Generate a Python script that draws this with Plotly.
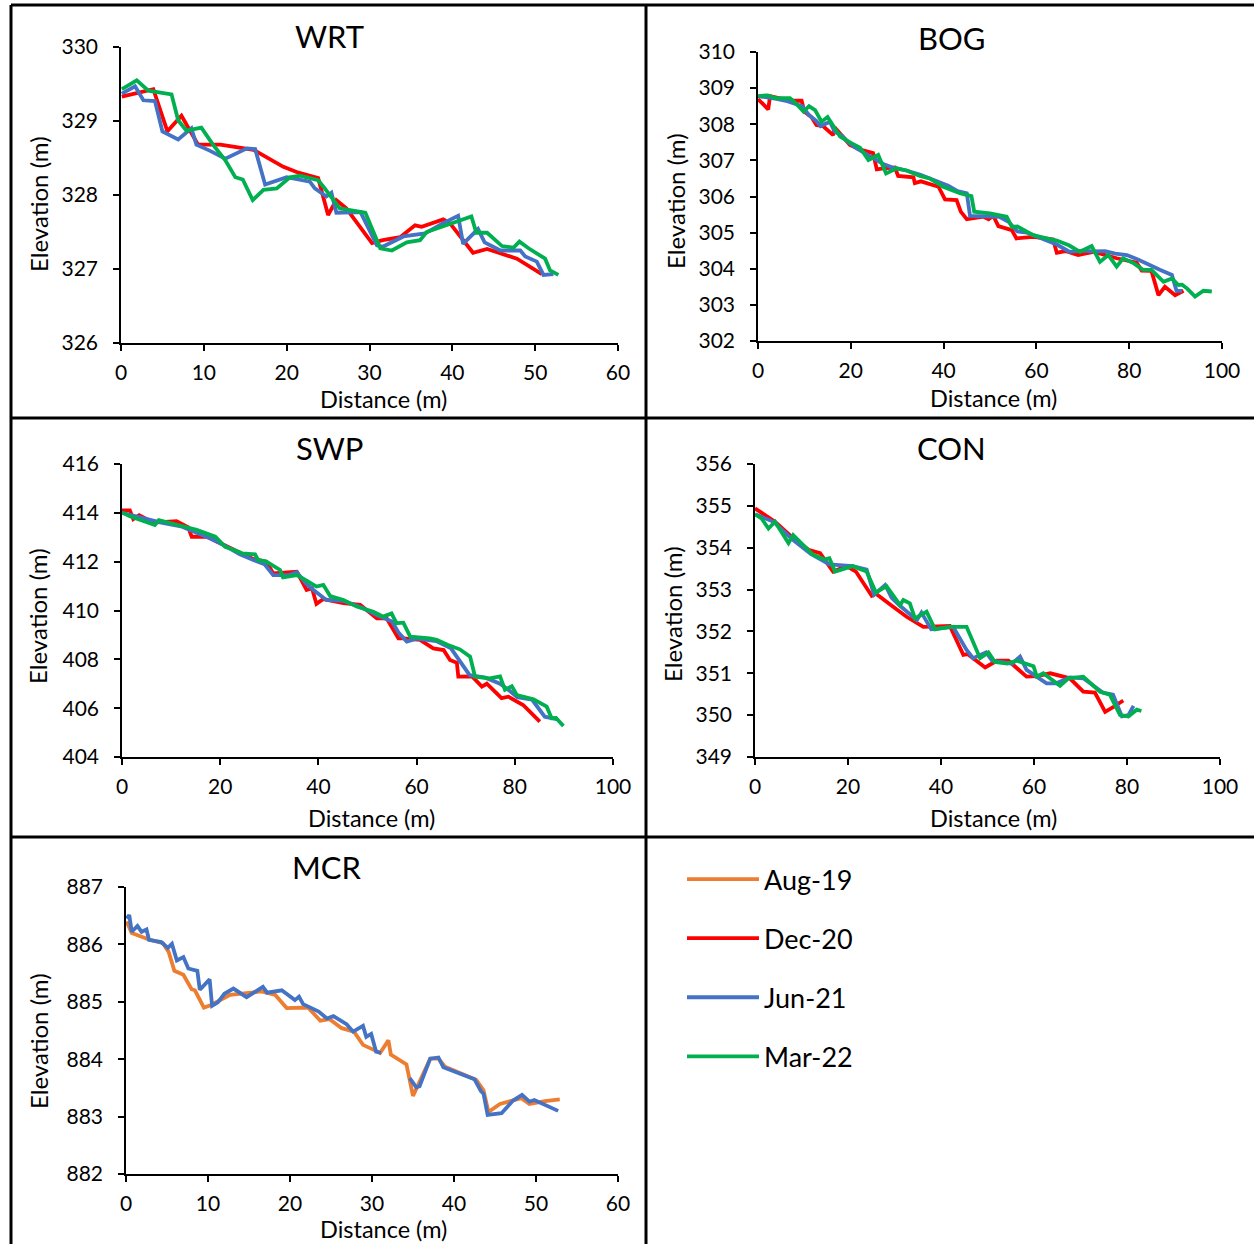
import plotly.graph_objects as go

W, H = 1254, 1244
FONT = "Lato"

SERIES = ["Aug-19", "Dec-20", "Jun-21", "Mar-22"]
COLORS = {"Aug-19": "#ED7D31", "Dec-20": "#FF0000", "Jun-21": "#4472C4", "Mar-22": "#00B050"}

# ---------------- WRT ----------------
WRT_DEC_X = [0.1, 3.9, 5.6, 7.3, 9.3, 12.0, 16.0, 19.6, 21.2, 23.8, 25.0, 26.0, 27.2, 30.3, 31.6, 33.7, 35.5, 36.3, 38.9, 39.7, 42.5, 44.2, 47.8, 50.8]
WRT_DEC_Y = [329.33, 329.43, 328.86, 329.07, 328.68, 328.68, 328.61, 328.38, 328.31, 328.23, 327.73, 327.93, 327.82, 327.35, 327.39, 327.43, 327.59, 327.57, 327.67, 327.62, 327.22, 327.27, 327.14, 326.93]
WRT_JUN_X = [0.1, 1.7, 2.7, 4.1, 5.0, 6.9, 8.5, 9.1, 10.7, 12.6, 15.2, 16.2, 17.4, 20.0, 22.8, 23.4, 24.8, 25.4, 26.0, 28.9, 30.9, 31.6, 34.1, 36.7, 38.9, 40.7, 41.3, 43.1, 43.9, 45.8, 48.2, 48.8, 50.2, 51.0, 52.2]
WRT_JUN_Y = [329.37, 329.47, 329.28, 329.27, 328.86, 328.75, 328.90, 328.68, 328.60, 328.49, 328.63, 328.62, 328.14, 328.24, 328.18, 328.09, 327.98, 328.03, 327.76, 327.77, 327.32, 327.30, 327.44, 327.48, 327.62, 327.72, 327.34, 327.54, 327.36, 327.25, 327.25, 327.17, 327.10, 326.92, 326.93]
WRT_MAR_X = [0.1, 1.9, 3.3, 6.1, 6.9, 7.9, 9.7, 11.1, 12.6, 13.8, 14.7, 15.9, 17.2, 18.8, 20.4, 21.6, 23.8, 24.6, 26.4, 29.5, 31.3, 32.7, 34.5, 36.1, 36.9, 40.1, 42.3, 42.9, 44.2, 46.0, 47.4, 48.1, 49.2, 51.2, 51.8, 52.8]
WRT_MAR_Y = [329.43, 329.55, 329.41, 329.36, 329.01, 328.87, 328.91, 328.68, 328.47, 328.24, 328.21, 327.93, 328.07, 328.09, 328.24, 328.26, 328.20, 328.09, 327.82, 327.76, 327.28, 327.25, 327.36, 327.39, 327.50, 327.63, 327.71, 327.49, 327.49, 327.31, 327.29, 327.37, 327.28, 327.14, 326.98, 326.92]

# ---------------- BOG ----------------
BOG_DEC_X = [0, 2.2, 2.6, 5, 7, 9.4, 10, 11.5, 12.6, 14, 16.2, 16.5, 18, 19.8, 22, 24.8, 25.6, 27, 29.5, 30.2, 33.5, 33.8, 35.1, 38.9, 40.3, 42.8, 43.7, 45, 48.6, 49.7, 50.7, 51.8, 54.7, 55.7, 59.3, 63.6, 64.4, 66.2, 69, 72.3, 77.3, 81.6, 82.7, 84.8, 86.3, 87.7, 89.9, 91.7]
BOG_DEC_Y = [308.7, 308.41, 308.78, 308.72, 308.65, 308.65, 308.35, 308.2, 307.98, 307.95, 307.7, 307.92, 307.7, 307.43, 307.3, 307.2, 306.75, 306.78, 306.8, 306.57, 306.53, 306.37, 306.42, 306.27, 305.92, 305.9, 305.58, 305.37, 305.44, 305.37, 305.47, 305.18, 305.07, 304.84, 304.88, 304.81, 304.44, 304.49, 304.38, 304.47, 304.29, 304.17, 303.95, 303.94, 303.27, 303.5, 303.27, 303.39]
BOG_JUN_X = [0, 2, 4, 6, 8, 9.5, 11, 12.5, 13.5, 15.5, 16.5, 18.1, 19.5, 21, 23, 25, 27, 29, 32, 35, 38, 41, 43, 45, 45.7, 48, 52, 54, 55.9, 58, 60, 62, 64.4, 67.1, 70, 72, 74.8, 77, 79.5, 82, 84, 86.6, 89.2, 90.2, 91.4]
BOG_JUN_Y = [308.78, 308.75, 308.7, 308.65, 308.55, 308.5, 308.25, 308.1, 307.95, 308.07, 307.8, 307.68, 307.5, 307.35, 307.2, 307.05, 306.9, 306.8, 306.72, 306.6, 306.45, 306.3, 306.15, 306.09, 305.46, 305.45, 305.44, 305.3, 305.03, 305.0, 304.9, 304.8, 304.67, 304.47, 304.5, 304.48, 304.49, 304.42, 304.38, 304.25, 304.12, 303.97, 303.83, 303.39, 303.39]
BOG_MAR_X = [0.1, 2, 4, 6.9, 8, 9.8, 11, 12.3, 13.7, 15, 16, 17.7, 20.2, 22, 23.8, 25.9, 27.6, 29.9, 32, 34.9, 37, 39.9, 43.5, 46, 46.6, 50, 53.6, 54.7, 55.9, 59.3, 62, 64.4, 67, 69.4, 71.9, 73.7, 75.5, 77.3, 78.7, 81, 83, 84.8, 87.4, 89.2, 90.6, 91.4, 92.5, 94.2, 96, 97.8]
BOG_MAR_Y = [308.78, 308.8, 308.72, 308.72, 308.6, 308.35, 308.5, 308.39, 308.07, 308.2, 308.0, 307.66, 307.47, 307.35, 307.01, 307.15, 306.64, 306.78, 306.72, 306.57, 306.5, 306.27, 306.09, 306.01, 305.58, 305.53, 305.44, 305.16, 305.17, 304.93, 304.85, 304.78, 304.65, 304.47, 304.63, 304.19, 304.38, 304.06, 304.29, 304.15, 303.97, 303.97, 303.64, 303.73, 303.55, 303.56, 303.45, 303.23, 303.39, 303.37]

# ---------------- SWP ----------------
SWP_DEC_X = [0, 1.6, 2.3, 3.5, 6.4, 11.1, 13.5, 14.2, 17.3, 20.7, 24.7, 26.8, 29.4, 30.8, 35.6, 37.6, 38.7, 39.6, 41.0, 45.1, 48.5, 51.9, 53.9, 56.3, 57.3, 60.7, 63.4, 65.5, 66.8, 68.2, 68.5, 71.3, 73.3, 74.3, 77.3, 78.7, 81.7, 85.1]
SWP_DEC_Y = [414.1, 414.1, 413.74, 413.9, 413.6, 413.66, 413.41, 413.02, 413.02, 412.68, 412.27, 412.1, 412.0, 411.52, 411.59, 410.84, 410.91, 410.27, 410.47, 410.3, 410.23, 409.68, 409.68, 408.86, 408.86, 408.8, 408.45, 408.38, 407.97, 407.86, 407.29, 407.3, 406.88, 407.0, 406.41, 406.47, 406.13, 405.45]
SWP_JUN_X = [0, 2, 5, 8, 12, 15, 18, 21, 24, 27, 29, 30.8, 34, 35.6, 37.5, 39.0, 41.6, 45, 49, 52, 55, 56.3, 58.0, 60, 64, 67, 69.5, 70.8, 74, 77, 79, 80.5, 83.5, 86.1, 88.5]
SWP_JUN_Y = [414.0, 413.9, 413.75, 413.6, 413.45, 413.2, 412.95, 412.65, 412.3, 412.05, 411.9, 411.45, 411.45, 411.57, 411.1, 410.84, 410.43, 410.4, 410.1, 409.8, 409.55, 409.1, 408.73, 408.85, 408.75, 408.45, 407.7, 407.35, 407.25, 407.0, 406.7, 406.45, 406.35, 405.65, 405.55]
SWP_MAR_X = [0, 1.6, 6.7, 7.5, 12.2, 15.2, 19.0, 21.0, 22.6, 24.4, 27.1, 27.7, 29.4, 30.8, 32.2, 32.8, 34.2, 35.6, 37.6, 39.6, 41.0, 42.4, 45.1, 47.8, 51.2, 53.2, 54.9, 55.9, 57.3, 58.7, 62.7, 64.1, 66.4, 68.8, 70.9, 71.9, 74.9, 77.0, 78.0, 79.4, 80.4, 83.8, 86.5, 87.5, 88.4, 89.9]
SWP_MAR_Y = [414.02, 413.86, 413.5, 413.7, 413.46, 413.3, 413.02, 412.61, 412.5, 412.34, 412.3, 412.07, 412.0, 411.82, 411.66, 411.36, 411.42, 411.45, 411.22, 410.98, 411.05, 410.59, 410.43, 410.16, 409.95, 409.75, 409.88, 409.48, 409.5, 408.93, 408.86, 408.8, 408.59, 408.41, 408.11, 407.29, 407.22, 407.3, 406.75, 406.9, 406.54, 406.36, 406.06, 405.59, 405.6, 405.27]

# ---------------- CON ----------------
CON_DEC_X = [0, 4.3, 7.5, 11.5, 14.0, 16.8, 19.7, 21.7, 25.1, 26.0, 29.7, 32.6, 36.2, 41.9, 44.8, 45.7, 49.5, 52.0, 54.5, 58.4, 60.6, 63.5, 67.7, 70.6, 73.1, 75.3, 77.1, 79.2]
CON_DEC_Y = [354.94, 354.62, 354.30, 353.95, 353.87, 353.43, 353.56, 353.43, 352.85, 352.9, 352.59, 352.35, 352.11, 352.13, 351.44, 351.46, 351.14, 351.30, 351.3, 350.92, 350.93, 351.0, 350.88, 350.56, 350.54, 350.08, 350.2, 350.35]
CON_JUN_X = [0, 4.0, 8, 12, 16, 21.0, 24.0, 25.6, 28.0, 29.4, 31.0, 33.0, 34.8, 35.8, 37.9, 42.6, 45.5, 46.9, 49.7, 51.0, 55.3, 57.0, 58.4, 62.7, 64.8, 67.7, 70.6, 74.8, 77.0, 78.9, 80.3, 81.4]
CON_JUN_Y = [354.8, 354.62, 354.2, 353.85, 353.6, 353.56, 353.48, 352.88, 353.11, 352.8, 352.63, 352.45, 352.27, 352.45, 352.05, 352.11, 351.56, 351.36, 351.5, 351.3, 351.23, 351.40, 351.08, 350.76, 350.76, 350.9, 350.88, 350.54, 350.49, 349.97, 350.0, 350.22]
CON_MAR_X = [0, 1.4, 2.9, 4.3, 7.2, 8.2, 12.5, 15.0, 16.0, 17.2, 21.0, 24.0, 26.0, 28.3, 31.2, 31.9, 33.3, 34.4, 36.9, 38.7, 41.9, 45.5, 48.4, 50.2, 51.6, 54.2, 56.3, 59.9, 60.6, 62.0, 65.6, 67.4, 70.6, 74.2, 76.3, 78.5, 80.3, 82.1, 83.1]
CON_MAR_Y = [354.80, 354.7, 354.46, 354.62, 354.11, 354.3, 353.83, 353.72, 353.75, 353.43, 353.56, 353.43, 352.93, 353.08, 352.63, 352.75, 352.67, 352.31, 352.47, 352.05, 352.11, 352.11, 351.36, 351.5, 351.27, 351.23, 351.3, 351.17, 350.92, 351.0, 350.70, 350.88, 350.92, 350.56, 350.49, 350.0, 349.97, 350.13, 350.1]

# ---------------- MCR ----------------
MCR_AUG_X = [0.08, 0.7, 2.7, 4.5, 5.2, 5.9, 7.0, 8.0, 8.4, 9.5, 10.3, 12.7, 16.5, 18.2, 19.6, 22.2, 23.7, 24.8, 26.3, 27.8, 28.9, 31.0, 32.0, 32.3, 34.2, 35.0, 37.1, 38.1, 38.9, 41.7, 42.7, 43.6, 44.2, 45.6, 48.2, 49.2, 51.1, 52.9]
MCR_AUG_Y = [886.40, 886.20, 886.09, 886.02, 885.87, 885.54, 885.47, 885.22, 885.2, 884.90, 884.94, 885.12, 885.18, 885.12, 884.89, 884.9, 884.67, 884.7, 884.54, 884.48, 884.25, 884.11, 884.33, 884.08, 883.91, 883.36, 884.01, 884.01, 883.87, 883.70, 883.64, 883.46, 883.08, 883.22, 883.32, 883.22, 883.27, 883.30]
MCR_JUN_X = [0.08, 0.4, 0.7, 1.4, 1.9, 2.5, 2.8, 4.3, 5.1, 5.6, 6.2, 7.0, 7.6, 8.7, 9.0, 10.2, 10.5, 11.2, 12.0, 13.1, 14.7, 16.7, 17.2, 19.0, 20.6, 21.1, 21.6, 23.5, 24.5, 25.3, 26.9, 27.7, 28.9, 29.3, 29.9, 30.5, 31.1, None, 34.6, 35.4, 35.8, 37.1, 38.1, 38.7, 42.5, 43.3, 43.6, 44.1, 45.8, 47.2, 48.3, 49.2, 49.8, 51.3, 52.7]
MCR_JUN_Y = [886.45, 886.51, 886.22, 886.32, 886.22, 886.26, 886.08, 886.04, 885.94, 886.01, 885.72, 885.78, 885.58, 885.54, 885.21, 885.39, 884.93, 884.99, 885.14, 885.23, 885.08, 885.26, 885.16, 885.2, 885.03, 885.09, 884.96, 884.83, 884.71, 884.75, 884.61, 884.48, 884.58, 884.39, 884.44, 884.13, 884.11, None, 883.67, 883.51, 883.53, 884.01, 884.03, 883.86, 883.65, 883.44, 883.40, 883.03, 883.06, 883.28, 883.38, 883.26, 883.29, 883.20, 883.10]

# ---------------- panels (pixel boxes) ----------------
PANELS = [
    dict(name="WRT", box=(121, 618, 47, 343), xr=(0, 60), xd=10, yr=(326, 330), yd=1,
         series={"Dec-20": (WRT_DEC_X, WRT_DEC_Y), "Jun-21": (WRT_JUN_X, WRT_JUN_Y), "Mar-22": (WRT_MAR_X, WRT_MAR_Y)},
         title=(329, 36), ytitle=(38, 204), xtitle=(383, 399)),
    dict(name="BOG", box=(758, 1222, 52, 341), xr=(0, 100), xd=20, yr=(302, 310), yd=1,
         series={"Dec-20": (BOG_DEC_X, BOG_DEC_Y), "Jun-21": (BOG_JUN_X, BOG_JUN_Y), "Mar-22": (BOG_MAR_X, BOG_MAR_Y)},
         title=(952, 38), ytitle=(675, 201), xtitle=(993, 398)),
    dict(name="SWP", box=(122, 613, 464, 757), xr=(0, 100), xd=20, yr=(404, 416), yd=2,
         series={"Dec-20": (SWP_DEC_X, SWP_DEC_Y), "Jun-21": (SWP_JUN_X, SWP_JUN_Y), "Mar-22": (SWP_MAR_X, SWP_MAR_Y)},
         title=(329, 448), ytitle=(38, 616), xtitle=(371, 818)),
    dict(name="CON", box=(755, 1220, 464, 757), xr=(0, 100), xd=20, yr=(349, 356), yd=1,
         series={"Dec-20": (CON_DEC_X, CON_DEC_Y), "Jun-21": (CON_JUN_X, CON_JUN_Y), "Mar-22": (CON_MAR_X, CON_MAR_Y)},
         title=(951, 448), ytitle=(672, 614), xtitle=(993, 818)),
    dict(name="MCR", box=(126, 618, 887, 1174), xr=(0, 60), xd=10, yr=(882, 887), yd=1,
         series={"Aug-19": (MCR_AUG_X, MCR_AUG_Y), "Jun-21": (MCR_JUN_X, MCR_JUN_Y)},
         title=(327, 867), ytitle=(38, 1041), xtitle=(383, 1229)),
]

def px(x):
    return x / W

def py(y):
    return 1 - y / H

fig = go.Figure()
shown = set()
annotations = []
layout_axes = {}

for i, p in enumerate(PANELS):
    n = "" if i == 0 else str(i + 1)
    x0, x1, y0, y1 = p["box"]
    axstyle = dict(showline=True, linecolor="black", linewidth=1.5, ticks="outside",
                   tickcolor="black", ticklen=6, tickwidth=1.5, showgrid=False, zeroline=False,
                   automargin=False,
                   tickfont=dict(family=FONT, size=21, color="black"))
    layout_axes["xaxis" + n] = dict(domain=[px(x0), px(x1)], range=list(p["xr"]), dtick=p["xd"], tick0=0,
                                     anchor="y" + n, ticklabelstandoff=4, **axstyle)
    layout_axes["yaxis" + n] = dict(domain=[py(y1), py(y0)], range=list(p["yr"]), dtick=p["yd"], tick0=0,
                                     anchor="x" + n, ticklabelstandoff=11, **axstyle)
    for s in SERIES:
        if s not in p["series"]:
            continue
        xs, ys = p["series"][s]
        fig.add_trace(go.Scatter(x=xs, y=ys, mode="lines", name=s,
                                 line=dict(color=COLORS[s], width=3.8),
                                 xaxis="x" + n, yaxis="y" + n,
                                 legendgroup=s, legendrank=SERIES.index(s) + 1,
                                 showlegend=s not in shown, connectgaps=False))
        shown.add(s)
    tx, ty = p["title"]
    annotations.append(dict(text=p["name"], x=px(tx), y=py(ty), xref="paper", yref="paper",
                            showarrow=False, xanchor="center", yanchor="middle",
                            font=dict(family=FONT, size=31, color="black")))
    ax_, ay_ = p["ytitle"]
    annotations.append(dict(text="Elevation (m)", x=px(ax_), y=py(ay_), xref="paper", yref="paper",
                            showarrow=False, textangle=-90, xanchor="center", yanchor="middle",
                            font=dict(family=FONT, size=24, color="black")))
    bx, by = p["xtitle"]
    annotations.append(dict(text="Distance (m)", x=px(bx), y=py(by), xref="paper", yref="paper",
                            showarrow=False, xanchor="center", yanchor="middle",
                            font=dict(family=FONT, size=23.5, color="black")))

BORDER = dict(color="black", width=3)
shapes = [
    dict(type="line", xref="paper", yref="paper", x0=px(11), x1=1, y0=py(5), y1=py(5), line=BORDER),
    dict(type="line", xref="paper", yref="paper", x0=px(11), x1=px(11), y0=py(5), y1=0, line=BORDER),
    dict(type="line", xref="paper", yref="paper", x0=px(646), x1=px(646), y0=py(5), y1=0, line=BORDER),
    dict(type="line", xref="paper", yref="paper", x0=px(11), x1=1, y0=py(418), y1=py(418), line=BORDER),
    dict(type="line", xref="paper", yref="paper", x0=px(11), x1=1, y0=py(837), y1=py(837), line=BORDER),
]

fig.update_layout(
    width=W, height=H,
    margin=dict(l=0, r=0, t=0, b=0, pad=0, autoexpand=False),
    paper_bgcolor="white", plot_bgcolor="white",
    showlegend=True,
    legend=dict(x=px(682), y=py(855), xanchor="left", yanchor="top",
                font=dict(family=FONT, size=27, color="black"),
                tracegroupgap=21, itemwidth=72, bgcolor="rgba(0,0,0,0)"),
    annotations=annotations,
    shapes=shapes,
    font=dict(family=FONT, color="black"),
    **layout_axes,
)

fig.write_html("out.html", config={"displayModeBar": False},
               post_script="document.body.style.margin='0';document.body.style.overflow='hidden';")
